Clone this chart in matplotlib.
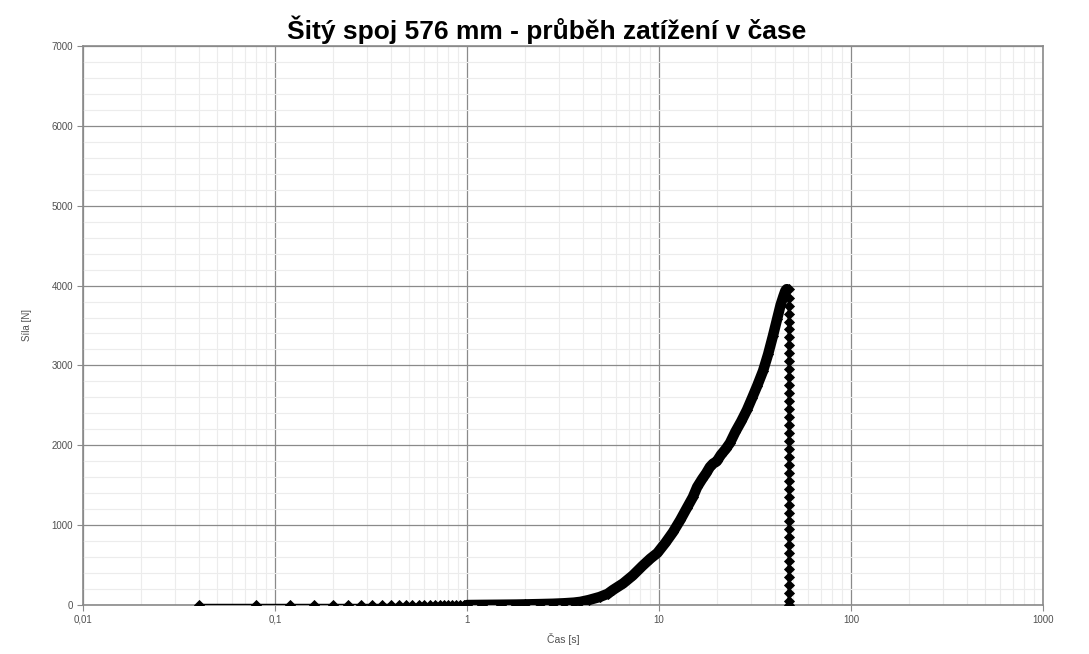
import matplotlib
matplotlib.use("Agg")
import matplotlib.pyplot as plt
from matplotlib.ticker import FixedLocator, LogLocator, MultipleLocator, NullFormatter

# ---- data ----
time_start = [0.04, 0.08, 0.12, 0.16, 0.20, 0.24, 0.28, 0.32, 0.36, 0.40,
              0.44, 0.48, 0.52, 0.56, 0.60, 0.64, 0.68, 0.72, 0.76, 0.80,
              0.84, 0.88, 0.92, 0.96, 1.00]
force_start = [0] * len(time_start)

time_rise = [1.0, 1.2, 1.5, 1.8, 2.0, 2.4, 2.8, 3.2, 3.6, 3.9, 4.3, 4.9,
             5.4, 5.75, 6.5, 7.3, 8.2, 9.0, 9.8, 10.8, 11.8, 12.9, 14.0,
             15.0, 15.8, 16.8, 17.6, 18.4, 19.1, 20.0, 21.0, 22.2, 23.4,
             25.0, 26.8, 28.7, 30.5, 32.4, 34.8, 37.0, 39.2, 41.2, 43.0,
             44.5, 45.5, 46.2]
force_rise = [0, 2, 4, 6, 8, 12, 16, 22, 30, 40, 62, 100,
              140, 188, 270, 370, 490, 580, 651, 780, 910, 1064, 1220,
              1350, 1478, 1580, 1650, 1728, 1770, 1800, 1880, 1950, 2028,
              2170, 2300, 2442, 2590, 2740, 2930, 3140, 3370, 3580, 3760,
              3870, 3935, 3955]

time_drop = [47.4] * 41
force_drop = [3955, 3850, 3750, 3650, 3550, 3450, 3350, 3250, 3150, 3050,
              2950, 2850, 2750, 2650, 2550, 2450, 2350, 2250, 2150, 2050,
              1950, 1850, 1750, 1650, 1550, 1450, 1350, 1250, 1150, 1050,
              950, 850, 750, 650, 550, 450, 350, 250, 150, 50, 0]

x_ticks = [0.01, 0.1, 1, 10, 100, 1000]
x_labels = ["0,01", "0,1", "1", "10", "100", "1000"]
y_ticks = [0, 1000, 2000, 3000, 4000, 5000, 6000, 7000]

title = "Šitý spoj 576 mm - průběh zatížení v čase"
x_title = "Čas [s]"
y_title = "Síla [N]"

# ---- figure ----
plt.rcParams['font.family'] = ['Liberation Sans', 'DejaVu Sans']
fig = plt.figure(figsize=(10.89, 6.54), dpi=100)
ax = fig.add_axes([0.0762, 0.0749, 0.8816, 0.8548])

t_all = time_start + time_rise[1:] + time_drop
f_all = force_start + force_rise[1:] + force_drop

ax.plot(t_all, f_all, color='black', lw=1.8, marker='D', ms=5,
        markeredgewidth=0.6, zorder=3)
ax.plot(time_rise, force_rise, color='black', lw=7.5, solid_capstyle='round',
        solid_joinstyle='round', zorder=4)

ax.set_xscale('log')
ax.set_xlim(0.01, 1000)
ax.set_ylim(0, 7000)

ax.xaxis.set_major_locator(FixedLocator(x_ticks))
ax.set_xticklabels(x_labels)
ax.xaxis.set_minor_locator(LogLocator(base=10, subs=range(2, 10), numticks=50))
ax.xaxis.set_minor_formatter(NullFormatter())
ax.yaxis.set_major_locator(FixedLocator(y_ticks))
ax.yaxis.set_minor_locator(MultipleLocator(200))

ax.grid(which='major', color='#8a8a8a', lw=0.9, zorder=1)
ax.grid(which='minor', color='#ececec', lw=0.8, zorder=0)
ax.set_axisbelow(True)

for s in ax.spines.values():
    s.set_color('#8a8a8a')
    s.set_linewidth(1.2)

ax.tick_params(which='major', direction='out', length=4, color='#8a8a8a',
               labelsize=7, labelcolor='#505050', pad=3)
ax.tick_params(which='minor', length=0)

ax.set_xlabel(x_title, fontsize=7.5, color='#505050', labelpad=6)
ax.set_ylabel(y_title, fontsize=7, color='#505050', labelpad=14)

fig.text(0.5015, 0.955, title, ha='center', va='center', fontsize=19,
         fontweight='bold', color='black')

fig.savefig("out.png", dpi=100, facecolor='white')
